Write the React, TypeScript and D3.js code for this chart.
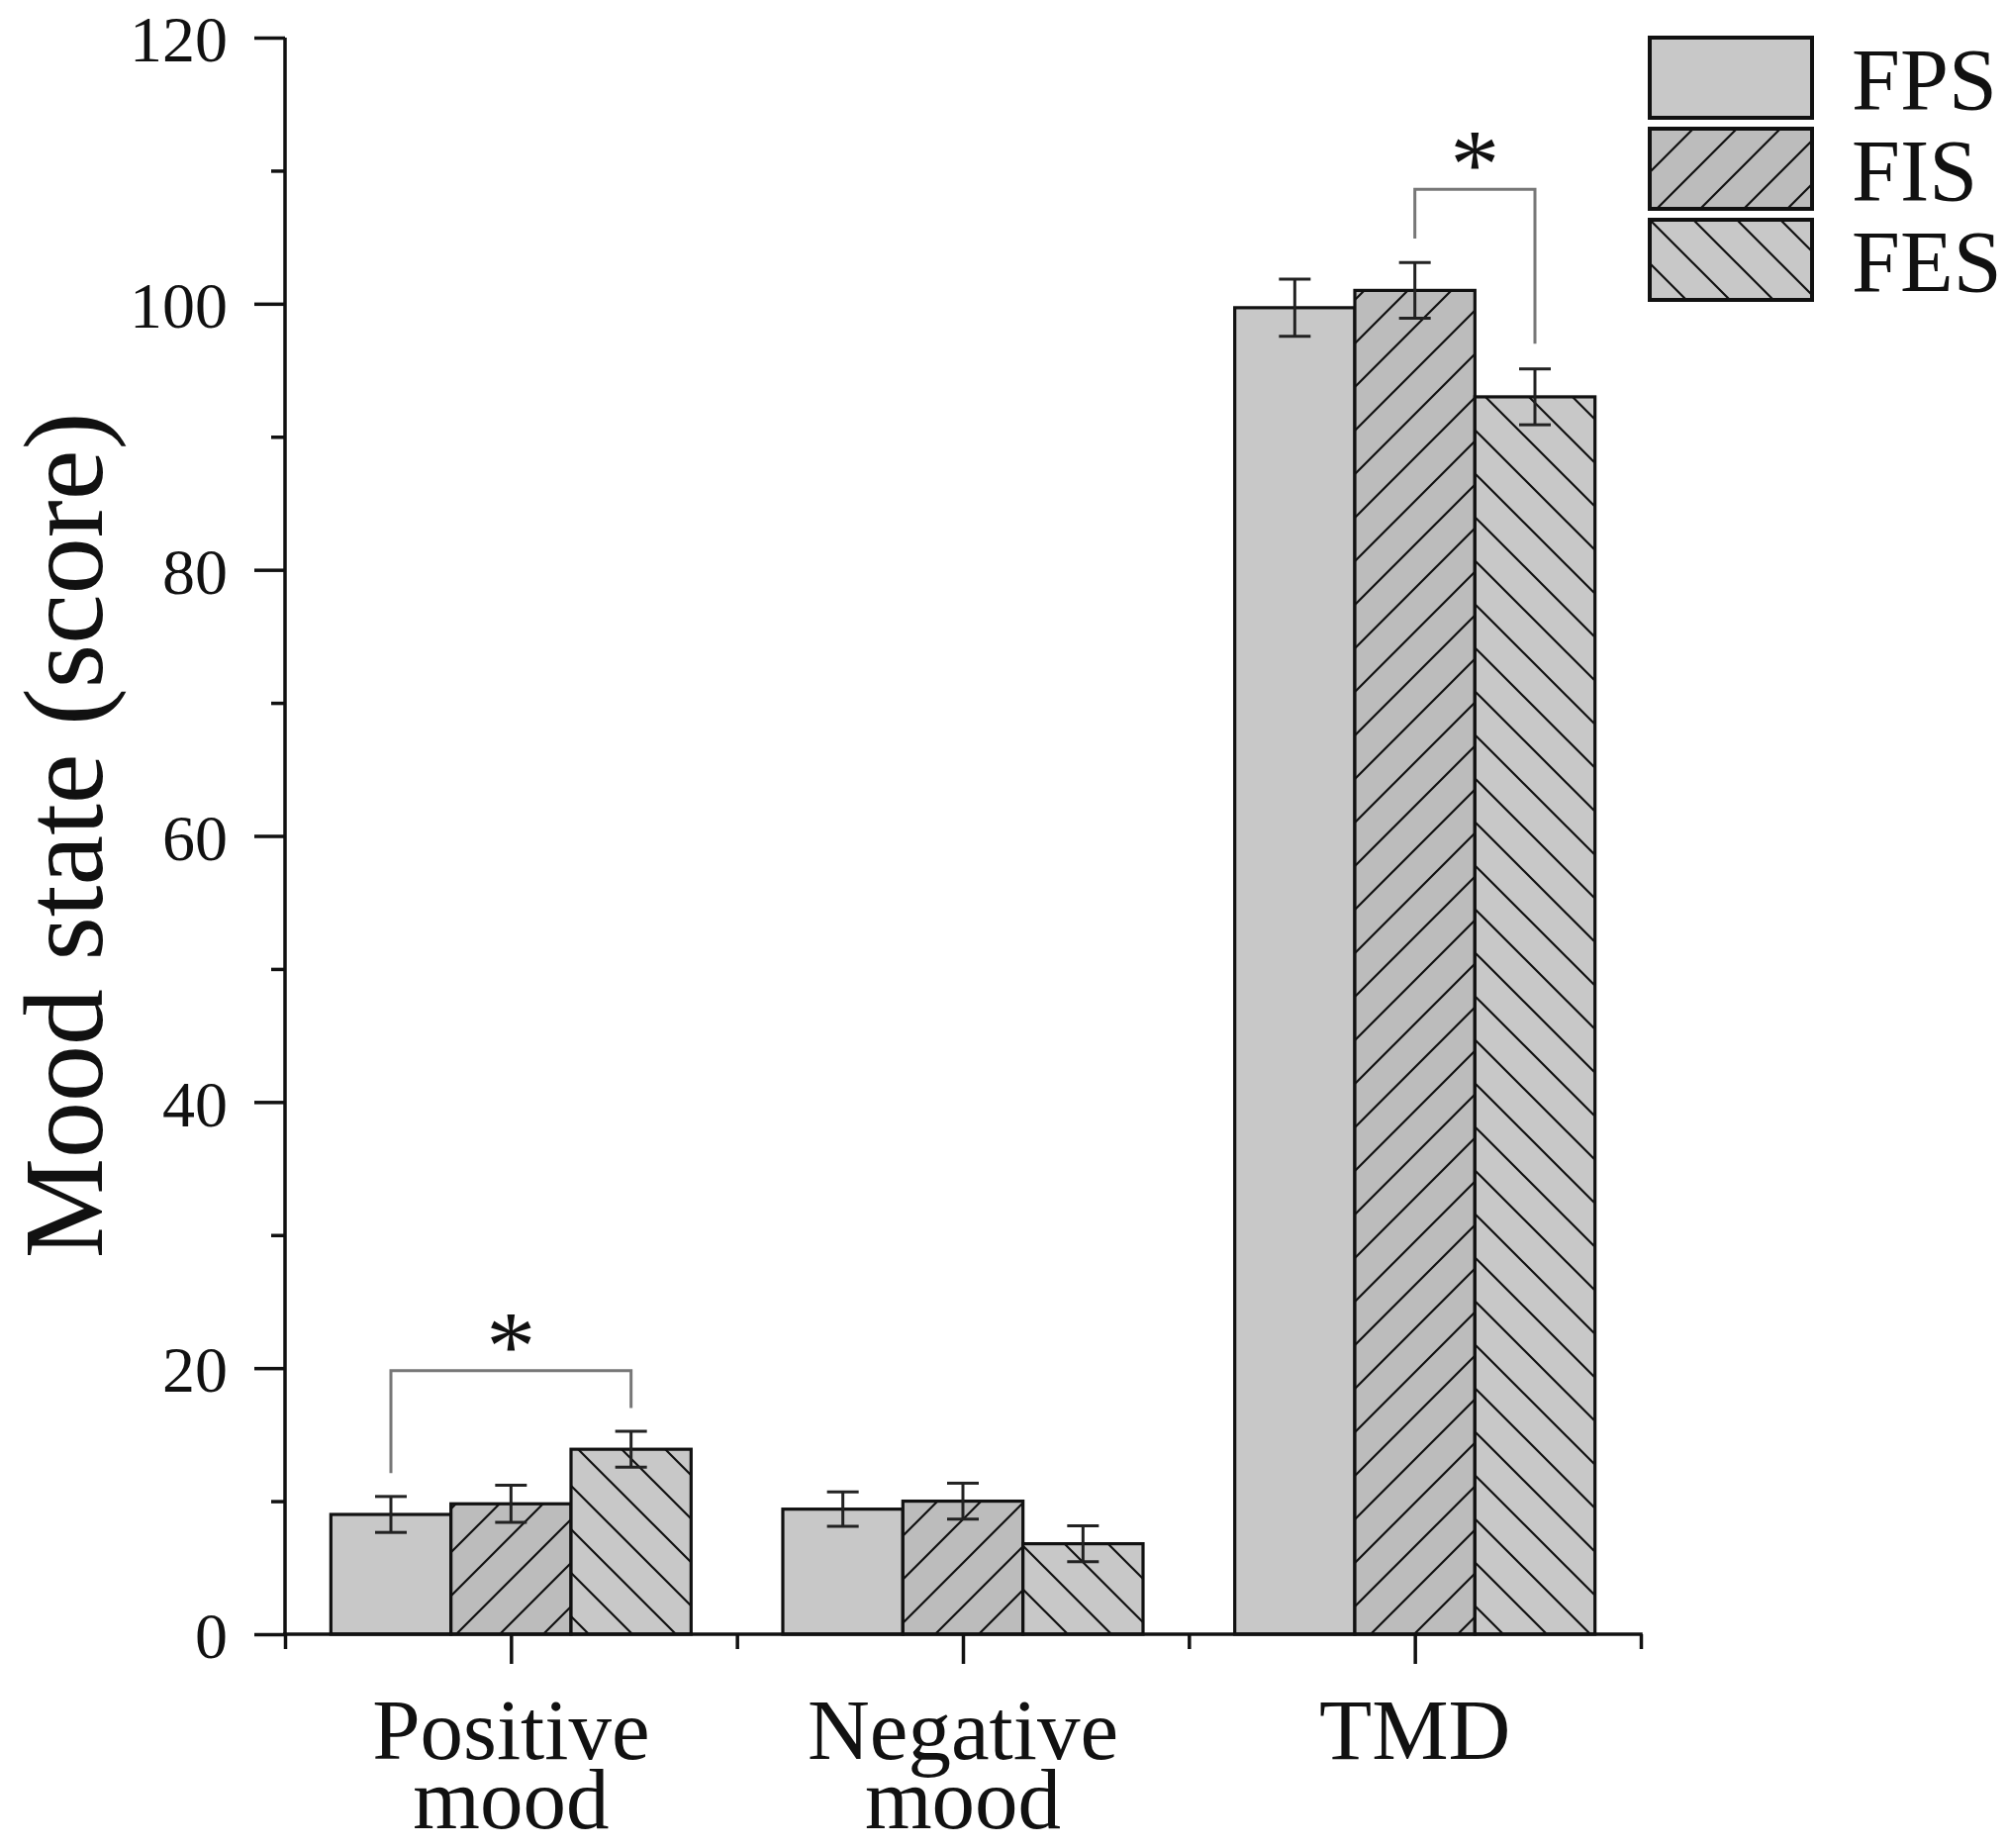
import { useEffect, useRef } from 'react';
import * as d3 from 'd3';

const categories = ['Positive mood', 'Negative mood', 'TMD'];
const categoryLines = [['Positive', 'mood'], ['Negative', 'mood'], ['TMD']];
const seriesNames = ['FPS', 'FIS', 'FES'];

const fpsMeans = [9.0, 9.4, 99.7];
const fisMeans = [9.8, 10.0, 101.0];
const fesMeans = [13.9, 6.8, 93.0];

const fpsErrors = [1.35, 1.3, 2.15];
const fisErrors = [1.4, 1.35, 2.1];
const fesErrors = [1.35, 1.35, 2.1];

const yMajorTicks = [0, 20, 40, 60, 80, 100, 120];
const yMinorTicks = [10, 30, 50, 70, 90, 110];

const brackets = [
  { category: 'Positive mood', from: 'FPS', to: 'FES', top: 19.8, leftEnd: 12.1, rightEnd: 17.0, label: '*' },
  { category: 'TMD', from: 'FIS', to: 'FES', top: 108.6, leftEnd: 104.9, rightEnd: 97.0, label: '*' },
];

const W = 2028;
const H = 1867;
const FONT = '"Liberation Serif", "Times New Roman", Times, serif';

export default function App() {
  const svgRef = useRef<SVGSVGElement>(null);

  useEffect(() => {
    if (!svgRef.current) return;
    const svg = d3.select(svgRef.current);
    svg.selectAll('*').remove();

    const means: Record<string, number[]> = { FPS: fpsMeans, FIS: fisMeans, FES: fesMeans };
    const errors: Record<string, number[]> = { FPS: fpsErrors, FIS: fisErrors, FES: fesErrors };

    const x = d3.scaleLinear().domain([0.5, categories.length + 0.5]).range([288, 1658]);
    const y = d3.scaleLinear().domain([0, 120]).range([1651, 38]);
    const inner = d3.scaleBand<string>().domain(seriesNames).range([-182, 182]).padding(0);

    // hatch patterns
    const defs = svg.append('defs');
    const fills: Record<string, string> = { FPS: '#c8c8c8', FIS: '#bcbcbc', FES: '#c8c8c8' };
    const mkPattern = (id: string, bg: string, d: string) => {
      const p = defs.append('pattern')
        .attr('id', id)
        .attr('patternUnits', 'userSpaceOnUse')
        .attr('width', 44)
        .attr('height', 44);
      p.append('rect').attr('width', 44).attr('height', 44).attr('fill', bg);
      p.append('path').attr('d', d).attr('stroke', '#111').attr('stroke-width', 2.2).attr('fill', 'none');
    };
    mkPattern('hatch-fis', fills.FIS, 'M0,44 L44,0 M-11,11 L11,-11 M33,55 L55,33');
    mkPattern('hatch-fes', fills.FES, 'M0,0 L44,44 M-11,33 L11,55 M33,-11 L55,11');
    const paint: Record<string, string> = { FPS: fills.FPS, FIS: 'url(#hatch-fis)', FES: 'url(#hatch-fes)' };

    svg.append('rect').attr('width', W).attr('height', H).attr('fill', '#fff');

    // bars
    const g = svg.append('g');
    categories.forEach((cat, ci) => {
      const cx = x(ci + 1);
      seriesNames.forEach((s) => {
        const v = means[s][ci];
        g.append('rect')
          .attr('x', cx + (inner(s) as number))
          .attr('y', y(v))
          .attr('width', inner.bandwidth())
          .attr('height', y(0) - y(v))
          .attr('fill', paint[s])
          .attr('stroke', '#111')
          .attr('stroke-width', 3.2);
      });
    });

    // error bars
    categories.forEach((cat, ci) => {
      const cx = x(ci + 1);
      seriesNames.forEach((s) => {
        const v = means[s][ci];
        const e = errors[s][ci];
        const bx = cx + (inner(s) as number) + inner.bandwidth() / 2;
        const eg = g.append('g').attr('stroke', '#222').attr('stroke-width', 3);
        eg.append('line').attr('x1', bx).attr('x2', bx).attr('y1', y(v + e)).attr('y2', y(v - e));
        eg.append('line').attr('x1', bx - 16).attr('x2', bx + 16).attr('y1', y(v + e)).attr('y2', y(v + e));
        eg.append('line').attr('x1', bx - 16).attr('x2', bx + 16).attr('y1', y(v - e)).attr('y2', y(v - e));
      });
    });

    // significance brackets
    brackets.forEach((b) => {
      const ci = categories.indexOf(b.category);
      const cx = x(ci + 1);
      const x1 = cx + (inner(b.from) as number) + inner.bandwidth() / 2;
      const x2 = cx + (inner(b.to) as number) + inner.bandwidth() / 2;
      g.append('path')
        .attr('d', `M${x1},${y(b.leftEnd)} V${y(b.top)} H${x2} V${y(b.rightEnd)}`)
        .attr('fill', 'none')
        .attr('stroke', '#777')
        .attr('stroke-width', 3);
      g.append('text')
        .attr('x', (x1 + x2) / 2)
        .attr('y', y(b.top) + 8)
        .attr('text-anchor', 'middle')
        .attr('font-family', FONT)
        .attr('font-size', 100)
        .attr('fill', '#111')
        .text(b.label);
    });

    // y axis
    const yAxis = svg.append('g').attr('transform', `translate(${x(0.5)},0)`);
    yAxis.call(d3.axisLeft(y).tickValues(yMajorTicks).tickSize(31).tickSizeOuter(0).tickPadding(27)
      .tickFormat((d) => String(d)));
    yAxis.selectAll('text').attr('font-family', FONT).attr('font-size', 66).attr('fill', '#111').attr('dy', '0.36em');
    yAxis.select('.domain').remove();
    svg.append('g').attr('transform', `translate(${x(0.5)},0)`)
      .call(d3.axisLeft(y).tickValues(yMinorTicks).tickSize(14).tickFormat(() => ''))
      .select('.domain').remove();

    // x axis
    const xAxis = svg.append('g').attr('transform', `translate(0,${y(0)})`);
    xAxis.call(d3.axisBottom(x).tickValues([1, 2, 3]).tickSize(30).tickSizeOuter(0).tickFormat(() => ''));
    xAxis.select('.domain').remove();
    const xMinor = svg.append('g').attr('transform', `translate(0,${y(0)})`);
    xMinor.call(d3.axisBottom(x).tickValues([0.5, 1.5, 2.5, 3.5]).tickSize(15).tickFormat(() => ''));
    xMinor.select('.domain').remove();
    svg.selectAll('.tick line').attr('stroke', '#111').attr('stroke-width', 3.5);

    // axis lines
    svg.append('line')
      .attr('x1', x(0.5)).attr('x2', x(0.5)).attr('y1', y(120)).attr('y2', y(0))
      .attr('stroke', '#111').attr('stroke-width', 3.5);
    svg.append('line')
      .attr('x1', x(0.5) - 2).attr('x2', x(categories.length + 0.5) + 1.75).attr('y1', y(0)).attr('y2', y(0))
      .attr('stroke', '#111').attr('stroke-width', 3.5);

    // category labels
    categoryLines.forEach((lines, ci) => {
      const t = svg.append('text')
        .attr('x', x(ci + 1))
        .attr('y', 1777)
        .attr('text-anchor', 'middle')
        .attr('font-family', FONT)
        .attr('font-size', 87)
        .attr('fill', '#111');
      lines.forEach((ln, li) => {
        t.append('tspan').attr('x', x(ci + 1)).attr('dy', li === 0 ? 0 : 70).text(ln);
      });
    });

    // y title
    svg.append('text')
      .attr('transform', 'translate(103,844) rotate(-90)')
      .attr('text-anchor', 'middle')
      .attr('font-family', FONT)
      .attr('font-size', 114)
      .attr('fill', '#111')
      .text('Mood state (score)');

    // legend
    const legend = svg.append('g').attr('transform', 'translate(1667,38)');
    seriesNames.forEach((s, i) => {
      const row = legend.append('g').attr('transform', `translate(0,${i * 92})`);
      row.append('rect')
        .attr('width', 164)
        .attr('height', 81)
        .attr('fill', paint[s])
        .attr('stroke', '#111')
        .attr('stroke-width', 4);
      row.append('text')
        .attr('x', 204)
        .attr('y', 72)
        .attr('font-family', FONT)
        .attr('font-size', 88)
        .attr('fill', '#111')
        .text(s);
    });
  }, []);

  return (
    <svg
      ref={svgRef}
      width={W}
      height={H}
      style={{ position: 'absolute', left: 0, top: 0, background: '#fff' }}
    />
  );
}
